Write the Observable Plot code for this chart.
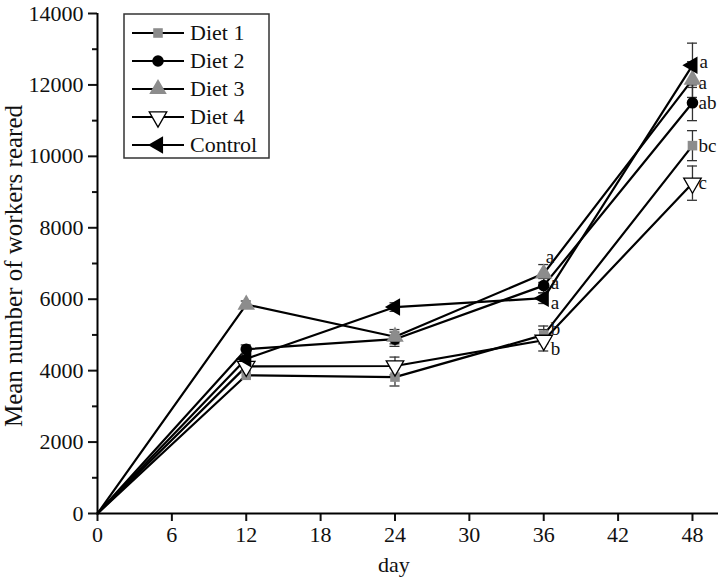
<!DOCTYPE html>
<html><head><meta charset="utf-8">
<script src="https://cdn.jsdelivr.net/npm/d3@7"></script>
<script src="https://cdn.jsdelivr.net/npm/@observablehq/plot@0.6"></script>
<style>body{margin:0;background:#fff}#chart{width:720px;height:578px}</style>
</head><body><div id="chart"></div>
<script>
// ---- data ----
const days = [0, 12, 24, 36, 48];
const seriesNames = ["Diet 1", "Diet 2", "Diet 3", "Diet 4", "Control"];
const diet1 = [0, 3870, 3820, 5000, 10300];
const diet2 = [0, 4600, 4880, 6380, 11500];
const diet3 = [0, 5850, 4950, 6720, 12150];
const diet4 = [0, 4120, 4130, 4850, 9250];
const control = [0, 4330, 5780, 6030, 12550];
const diet1Err = [0, 100, 250, 250, 420];
const diet2Err = [0, 120, 200, 200, 500];
const diet3Err = [0, 100, 200, 250, 500];
const diet4Err = [0, 120, 250, 300, 480];
const controlErr = [0, 100, 120, 150, 620];
const letters36 = ["b", "a", "a", "b", "a"];
const letters48 = ["bc", "ab", "a", "c", "a"];
const xTicks = [0, 6, 12, 18, 24, 30, 36, 42, 48];
const yTicks = [0, 2000, 4000, 6000, 8000, 10000, 12000, 14000];
const yMinorTicks = [1000, 3000, 5000, 7000, 9000, 11000, 13000];

// ---- styles ----
const font = "'Liberation Serif', 'Times New Roman', serif";
const styles = {
  "Diet 1":  {symbol: "square",   rotate: 0,   fill: "#8c8c8c", stroke: "none",  r: 5.4},
  "Diet 2":  {symbol: "circle",   rotate: 0,   fill: "#000",    stroke: "none",  r: 5.8},
  "Diet 3":  {symbol: "triangle", rotate: 0,   fill: "#8c8c8c", stroke: "none",  r: 6.5},
  "Diet 4":  {symbol: "triangle", rotate: 180, fill: "#fff",    stroke: "#000",  r: 6.5},
  "Control": {symbol: "triangle", rotate: -90, fill: "#000",    stroke: "none",  r: 6.5}
};
const labelOffsets36 = {"Diet 1": [7, -6], "Diet 2": [7, -3], "Diet 3": [2, -17], "Diet 4": [7, 9], "Control": [7, 5]};
const labelOffsets48 = {"Diet 1": [6, 0], "Diet 2": [6, 0], "Diet 3": [6, 3], "Diet 4": [6, 0], "Control": [7, -3]};

const values = [diet1, diet2, diet3, diet4, control];
const errs = [diet1Err, diet2Err, diet3Err, diet4Err, controlErr];
const rows = [];
seriesNames.forEach((s, i) => days.forEach((d, j) => rows.push({series: s, day: d, value: values[i][j], err: errs[i][j], lo: values[i][j] - errs[i][j], hi: values[i][j] + errs[i][j]})));
const errRows = rows.filter(r => r.err > 0);

const marks = [];
marks.push(Plot.lineY(rows, {x: "day", y: "value", z: "series", stroke: "#000", strokeWidth: 2.2}));
marks.push(Plot.ruleX(errRows, {x: "day", y1: "lo", y2: "hi", stroke: "#333", strokeWidth: 1.3}));
marks.push(Plot.ruleY(errRows, {y: "lo", x1: "day", x2: "day", insetLeft: -5, insetRight: -5, stroke: "#333", strokeWidth: 1.3}));
marks.push(Plot.ruleY(errRows, {y: "hi", x1: "day", x2: "day", insetLeft: -5, insetRight: -5, stroke: "#333", strokeWidth: 1.3}));
seriesNames.forEach(s => {
  const st = styles[s];
  marks.push(Plot.dot(rows.filter(r => r.series === s && r.day > 0), {x: "day", y: "value", symbol: () => st.symbol, rotate: st.rotate, r: st.r, fill: st.fill, stroke: st.stroke, strokeWidth: 1.3}));
});
seriesNames.forEach((s, i) => {
  const [dx36, dy36] = labelOffsets36[s];
  marks.push(Plot.text([{day: 36, value: values[i][3], t: letters36[i]}], {x: "day", y: "value", text: "t", dx: dx36, dy: dy36, textAnchor: "start", fontSize: 19, fill: "#111"}));
  const [dx48, dy48] = labelOffsets48[s];
  marks.push(Plot.text([{day: 48, value: values[i][4], t: letters48[i]}], {x: "day", y: "value", text: "t", dx: dx48, dy: dy48, textAnchor: "start", fontSize: 19, fill: "#111"}));
});
// axes
marks.push(Plot.axisY(yTicks, {tickSize: 9, tickPadding: 5, fontSize: 22, strokeWidth: 2, label: null, tickFormat: d => String(d)}));
marks.push(Plot.axisY(yMinorTicks, {tickSize: 5, text: null, strokeWidth: 2, label: null}));
marks.push(Plot.axisX(xTicks, {tickSize: 8, tickPadding: 5, fontSize: 22, strokeWidth: 2, label: null}));
marks.push(Plot.ruleX([0], {stroke: "#000", strokeWidth: 2}));
marks.push(Plot.ruleY([0], {stroke: "#000", strokeWidth: 2}));

const chart = Plot.plot({
  width: 720, height: 578,
  marginLeft: 97, marginRight: 2, marginTop: 13, marginBottom: 65,
  style: {fontFamily: font, background: "#fff", color: "#111"},
  x: {domain: [0, 50.1]},
  y: {domain: [0, 14000]},
  symbol: {type: "identity"},
  marks
});
document.getElementById("chart").appendChild(chart);

// titles and legend
const svg = d3.select(chart);
svg.append("text").attr("x", 394).attr("y", 572).attr("text-anchor", "middle")
  .style("font-family", font).style("font-size", "22px").attr("fill", "#111").text("day");
svg.append("text").attr("transform", "translate(22,266) rotate(-90)").attr("text-anchor", "middle")
  .style("font-family", font).style("font-size", "25px").attr("fill", "#111").text("Mean number of workers reared");

const lg = svg.append("g");
lg.append("rect").attr("x", 124).attr("y", 14).attr("width", 145).attr("height", 144)
  .attr("fill", "#fff").attr("stroke", "#333").attr("stroke-width", 1.5);
const symMap = {square: d3.symbolSquare, circle: d3.symbolCircle, triangle: d3.symbolTriangle};
seriesNames.forEach((s, i) => {
  const st = styles[s];
  const y = 33 + i * 28;
  lg.append("line").attr("x1", 132).attr("x2", 184).attr("y1", y).attr("y2", y).attr("stroke", "#000").attr("stroke-width", 2);
  lg.append("path").attr("d", d3.symbol(symMap[st.symbol], Math.PI * st.r * st.r)())
    .attr("transform", `translate(158,${y}) rotate(${st.rotate})`)
    .attr("fill", st.fill).attr("stroke", st.stroke).attr("stroke-width", 1.3);
  lg.append("text").attr("x", 190).attr("y", y).attr("dy", "0.33em").attr("text-anchor", "start")
    .style("font-family", font).style("font-size", "22px").attr("fill", "#111").text(s);
});
</script>
</body></html>
